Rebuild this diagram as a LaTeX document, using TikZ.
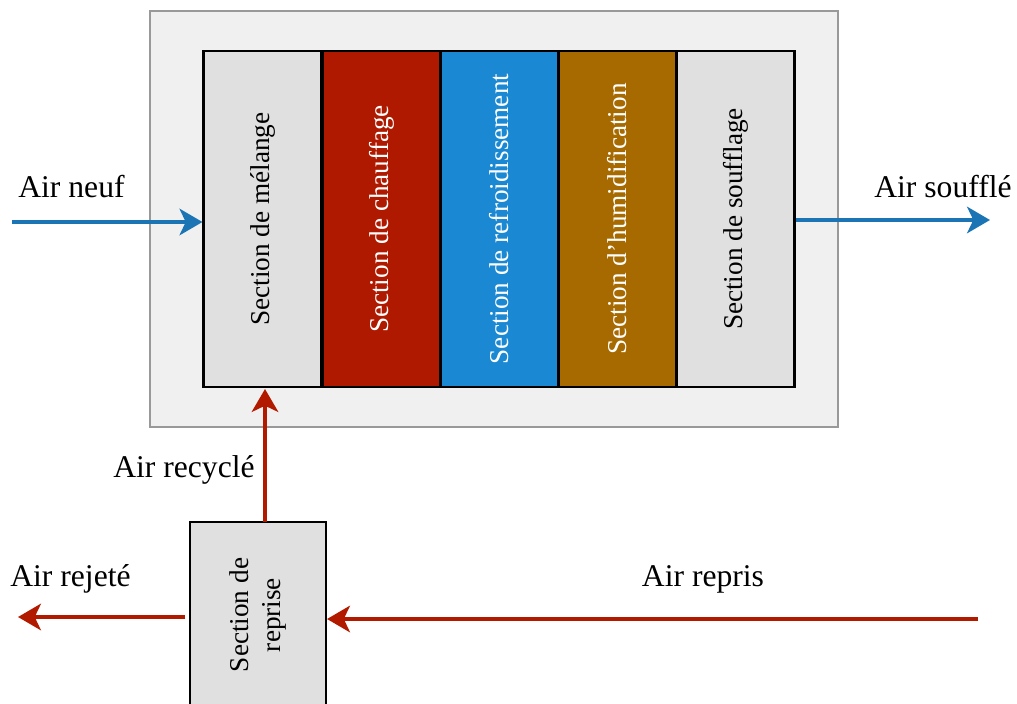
\documentclass[tikz,border=0pt]{standalone}
\usepackage{fontspec}
\setmainfont{Liberation Serif}
\usetikzlibrary{arrows.meta}

\definecolor{secgray}{HTML}{E0E0E0}
\definecolor{boxgray}{HTML}{F0F0F0}
\definecolor{heatred}{HTML}{AE1900}
\definecolor{coolblue}{HTML}{1A88D2}
\definecolor{humidbrown}{HTML}{A66A00}
\definecolor{airblue}{HTML}{1B75B5}
\definecolor{airred}{HTML}{B21A00}

\tikzset{
  section/.style={draw=black,line width=1.2pt,minimum width=2.36cm,minimum height=6.72cm,
    inner sep=0pt,font=\fontsize{15.5}{18.5}\selectfont},
  label/.style={font=\fontsize{18}{21}\selectfont,inner sep=0pt},
  bluearrow/.style={draw=airblue,line width=2.7pt,-{Stealth[length=13pt,width=15pt,inset=3.5pt]}},
  redarrow/.style={draw=airred,line width=2.7pt,-{Stealth[length=13pt,width=15pt,inset=3.5pt]}},
}

\begin{document}
\begin{tikzpicture}[x=0.02cm,y=-0.02cm]
\useasboundingbox (0,0) rectangle (1017,703);
\begin{scope}
\clip (0,0) rectangle (1017,703);
% air handling unit
\draw[fill=boxgray,draw=black!40,line width=1pt] (150,11) rectangle (838,427);
\node[section,fill=secgray] (mix) at (262.5,219) {};
\node[rotate=90,font=\fontsize{15.5}{18.5}\selectfont] at (mix) {Section de mélange};
\node[section,fill=heatred] (heat) at (381.5,219) {};
\node[rotate=90,text=white,font=\fontsize{15.5}{18.5}\selectfont] at (heat) {Section de chauffage};
\node[section,fill=coolblue] (cool) at (499.5,219) {};
\node[rotate=90,text=white,font=\fontsize{15.5}{18.5}\selectfont] at (cool) {Section de refroidissement};
\node[section,fill=humidbrown] (humid) at (617.5,219) {};
\node[rotate=90,text=white,font=\fontsize{15.5}{18.5}\selectfont] at (humid) {Section d'humidification};
\node[section,fill=secgray] (blow) at (735.5,219) {};
\node[rotate=90,font=\fontsize{15.5}{18.5}\selectfont] at (blow) {Section de soufflage};
% return section
\node[section,fill=secgray,minimum width=2.72cm,minimum height=3.72cm] (reprise) at (258,615) {};
\node[rotate=90,align=center,font=\fontsize{15.5}{18.5}\selectfont] at (reprise) {Section de\\reprise};
\end{scope}
% air flows
\coordinate (inlet) at (12,222);
\coordinate (outlet) at (990,220);
\coordinate (reject) at (18,617);
\coordinate (ret) at (978,619);
\draw[bluearrow] (inlet) -- (mix.west |- inlet);
\draw[bluearrow] (blow.east |- outlet) -- (outlet);
\draw[redarrow] (265,522) -- (265,389);
\draw[redarrow,shorten <=2pt] (reprise.west |- reject) -- (reject);
\draw[redarrow] (ret) -- (reprise.east |- ret);
% labels
\node[label,anchor=base west] (lneuf) at (18,197) {Air neuf};
\node[label,anchor=base east] (lsouffle) at (1012,197) {Air soufflé};
\node[label,anchor=base east] (lrecycle) at (255,477) {Air recyclé};
\node[label,anchor=base west] (lrejete) at (10,586) {Air rejeté};
\node[label,anchor=base] (lrepris) at (703,586) {Air repris};
\end{tikzpicture}
\end{document}
